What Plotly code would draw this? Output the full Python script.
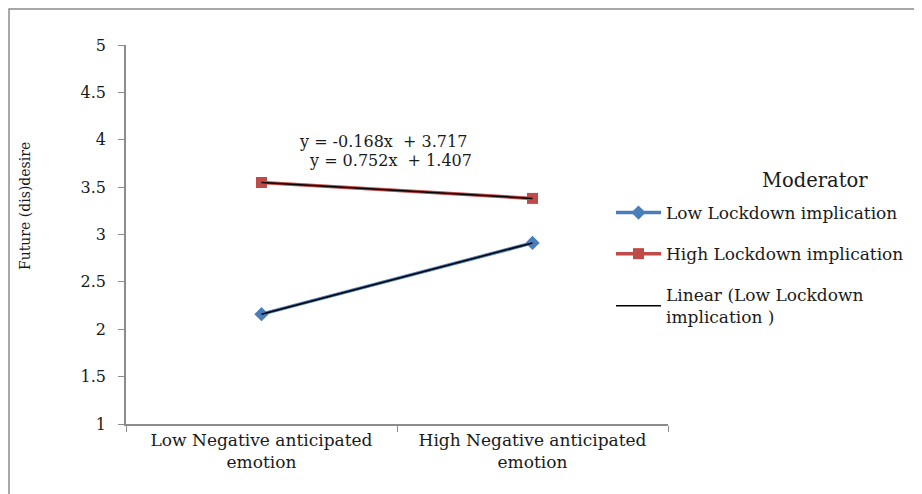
import plotly.graph_objects as go

categories = ["Low Negative anticipated<br>emotion", "High Negative anticipated<br>emotion"]
low_values = [2.159, 2.911]
high_values = [3.549, 3.381]
low_fit = [0.752, 1.407]    # slope, intercept
high_fit = [-0.168, 3.717]
eq_labels = ["y = -0.168x  + 3.717", "y = 0.752x  + 1.407"]
y_ticks = [1, 1.5, 2, 2.5, 3, 3.5, 4, 4.5, 5]
series_names = ["Low Lockdown implication", "High Lockdown implication",
                "Linear (Low Lockdown<br>implication )"]

FONT = "DejaVu Serif"
TXT = "#1a1a1a"

OFF = 8  # page body margin
W, H = 922 - OFF, 494 - OFF
# plot area in page pixels
L, R, T, B = 126, 668, 45, 424


def px(x):
    return (x - L) / (R - L)


def py(y):
    return (B - y) / (B - T)


xs = [1, 2]
fig = go.Figure()
fig.add_trace(go.Scatter(
    x=categories, y=low_values, mode="lines+markers", name=series_names[0],
    line=dict(color="#4A7EBB", width=3.5),
    marker=dict(symbol="diamond", size=11, color="#4A7EBB"),
    legendgroup="a"))
fig.add_trace(go.Scatter(
    x=categories, y=high_values, mode="lines+markers", name=series_names[1],
    line=dict(color="#BE4B48", width=3.5),
    marker=dict(symbol="square", size=11, color="#BE4B48"),
    legendgroup="b"))
fig.add_trace(go.Scatter(
    x=categories, y=[low_fit[0] * x + low_fit[1] for x in xs], mode="lines",
    name=series_names[2], line=dict(color="black", width=1.5),
    legendgroup="c"))
fig.add_trace(go.Scatter(
    x=categories, y=[high_fit[0] * x + high_fit[1] for x in xs], mode="lines",
    showlegend=False, line=dict(color="black", width=1.5), hoverinfo="skip"))

ann = [
    dict(x=px(383), y=py(141), text=eq_labels[0]),
    dict(x=px(390), y=py(160), text=eq_labels[1]),
]
annotations = [dict(xref="paper", yref="paper", showarrow=False,
                    font=dict(family=FONT, size=16, color=TXT),
                    xanchor="center", yanchor="middle", **a) for a in ann]
annotations.append(dict(xref="paper", yref="paper", x=px(815), y=py(180),
                        text="Moderator", showarrow=False,
                        font=dict(family=FONT, size=19.5, color=TXT),
                        xanchor="center", yanchor="middle"))
annotations.append(dict(xref="paper", yref="paper", x=px(25), y=py(206),
                        text="Future (dis)desire", textangle=-90, showarrow=False,
                        font=dict(family=FONT, size=14, color=TXT),
                        xanchor="center", yanchor="middle"))

fig.update_layout(
    width=W, height=H,
    margin=dict(l=L - OFF, r=W + OFF - R, t=T - OFF, b=H + OFF - B),
    paper_bgcolor="white", plot_bgcolor="white",
    font=dict(family=FONT, size=15, color=TXT),
    showlegend=True,
    legend=dict(x=px(611), y=py(195), xanchor="left", yanchor="top",
                font=dict(family=FONT, size=17, color=TXT),
                itemwidth=45, tracegroupgap=16, bgcolor="rgba(0,0,0,0)"),
    annotations=annotations,
    shapes=[dict(type="rect", xref="paper", yref="paper",
                 x0=px(OFF + 1), x1=px(920), y0=py(530), y1=py(OFF + 1),
                 line=dict(color="#8c8c8c", width=1.5), layer="below")],
)
fig.update_xaxes(type="category", showgrid=False, showline=True,
                 linecolor="#8c8c8c", linewidth=1.5, ticks="outside",
                 tickson="boundaries", ticklen=6, tickcolor="#8c8c8c",
                 tickfont=dict(family=FONT, size=17, color=TXT),
                 range=[-0.5, 1.5], zeroline=False)
fig.update_yaxes(range=[1, 5], tickvals=y_ticks,
                 ticktext=[f"{v:g}" for v in y_ticks], showgrid=False,
                 showline=True, linecolor="#8c8c8c", linewidth=1.5,
                 ticks="outside", ticklen=6, tickcolor="#8c8c8c",
                 ticklabelstandoff=9,
                 tickfont=dict(family=FONT, size=16, color=TXT),
                 zeroline=False)

fig.write_html("out.html")
